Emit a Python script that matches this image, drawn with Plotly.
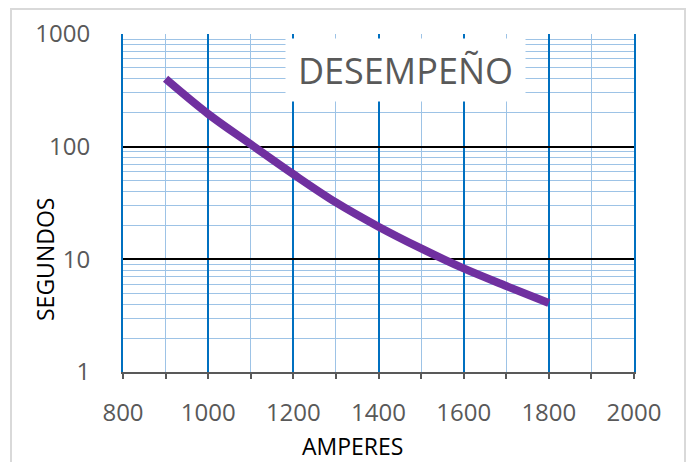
import plotly.graph_objects as go

# Data
amperes = [900, 1000, 1100, 1200, 1300, 1400, 1500, 1600, 1700, 1800]
segundos = [400, 195, 105, 57, 32, 19.5, 12.5, 8.3, 5.8, 4.1]

x_major = [800, 1000, 1200, 1400, 1600, 1800, 2000]
x_minor = [900, 1100, 1300, 1500, 1700, 1900]
y_major = [1, 10, 100, 1000]
y_major_labels = ["1", "10", "100", "1000"]
y_minor = [m * d for d in (1, 10, 100) for m in range(2, 10)]

title_text = "DESEMPEÑO"
x_title = "AMPERES"
y_title = "SEGUNDOS"

W, H = 688, 462
L, R, T, B = 123, 634, 34, 372  # plot area in pixels


def px(xp):
    return (xp - L) / (R - L)


def py(yp):
    return (B - yp) / (B - T)


FONT = "Open Sans, Liberation Sans, sans-serif"
MINOR_GRID = "#9DC3E6"

fig = go.Figure()
fig.add_trace(go.Scatter(
    x=amperes, y=segundos, mode="lines",
    line=dict(color="#7030A0", width=8, shape="spline", smoothing=1.0),
    showlegend=False, hoverinfo="x+y",
))

fig.update_layout(
    width=W, height=H,
    margin=dict(l=L, r=W - R, t=T, b=H - B, pad=0),
    paper_bgcolor="white", plot_bgcolor="white",
    font=dict(family=FONT, size=24, color="#595959"),
    showlegend=False,
    xaxis=dict(
        range=[800, 2000], tickmode="array", tickvals=x_major,
        ticks="outside", ticklen=5, tickwidth=1.5, tickcolor="#595959",
        showline=True, linecolor="#595959", linewidth=1.5,
        showgrid=True, gridcolor="#0070C0", gridwidth=2,
        zeroline=False, ticklabelstandoff=13,
        tickfont=dict(family=FONT, size=24, color="#595959"),
        minor=dict(tickmode="array", tickvals=x_minor, ticks="outside",
                   ticklen=5, tickwidth=1.5, tickcolor="#595959",
                   showgrid=True, gridcolor=MINOR_GRID, gridwidth=1),
    ),
    # crossing part of the major ticks (inside the plot)
    xaxis2=dict(
        overlaying="x", anchor="y", side="bottom", matches="x",
        range=[800, 2000], tickmode="array", tickvals=x_major,
        ticks="inside", ticklen=9, tickwidth=1.5, tickcolor="#595959",
        showticklabels=False, showgrid=False, showline=False, zeroline=False,
    ),
    # black top border (1000 gridline)
    xaxis3=dict(
        overlaying="x", anchor="y", side="top", matches="x",
        range=[800, 2000], showline=True, linecolor="#000000", linewidth=2,
        ticks="", showticklabels=False, showgrid=False, zeroline=False,
    ),
    yaxis=dict(
        type="log", range=[0, 3], tickmode="array",
        tickvals=y_major, ticktext=y_major_labels,
        ticks="", showline=True, mirror=True,
        linecolor="#0070C0", linewidth=2,
        showgrid=True, gridcolor="#000000", gridwidth=2,
        zeroline=False, ticklabelstandoff=26,
        tickfont=dict(family=FONT, size=24, color="#595959"),
        minor=dict(tickmode="array", tickvals=y_minor, ticks="",
                   showgrid=True, gridcolor=MINOR_GRID, gridwidth=1),
    ),
)

# Outer chart border
fig.add_shape(type="rect", xref="paper", yref="paper",
              x0=px(11), x1=px(685), y0=py(480), y1=py(9),
              line=dict(color="#D9D9D9", width=2), fillcolor="rgba(0,0,0,0)",
              layer="below")

# Title in white box
fig.add_annotation(
    text=title_text, xref="paper", yref="paper",
    x=px(405.5), y=py(70), xanchor="center", yanchor="middle",
    showarrow=False, bgcolor="white", width=237, height=60,
    font=dict(family=FONT, size=36, color="#595959"),
)

# Axis titles
fig.add_annotation(
    text=x_title, xref="paper", yref="paper",
    x=px(352), y=py(446), xanchor="center", yanchor="middle",
    showarrow=False, font=dict(family=FONT, size=23, color="#000000"),
)
fig.add_annotation(
    text=y_title, xref="paper", yref="paper", textangle=-90,
    x=px(45), y=py(260), xanchor="center", yanchor="middle",
    showarrow=False, font=dict(family=FONT, size=23, color="#000000"),
)

fig.write_html(
    "out.html",
    config={"displayModeBar": False},
    post_script="document.body.style.margin='0';document.body.style.overflow='hidden';",
)
